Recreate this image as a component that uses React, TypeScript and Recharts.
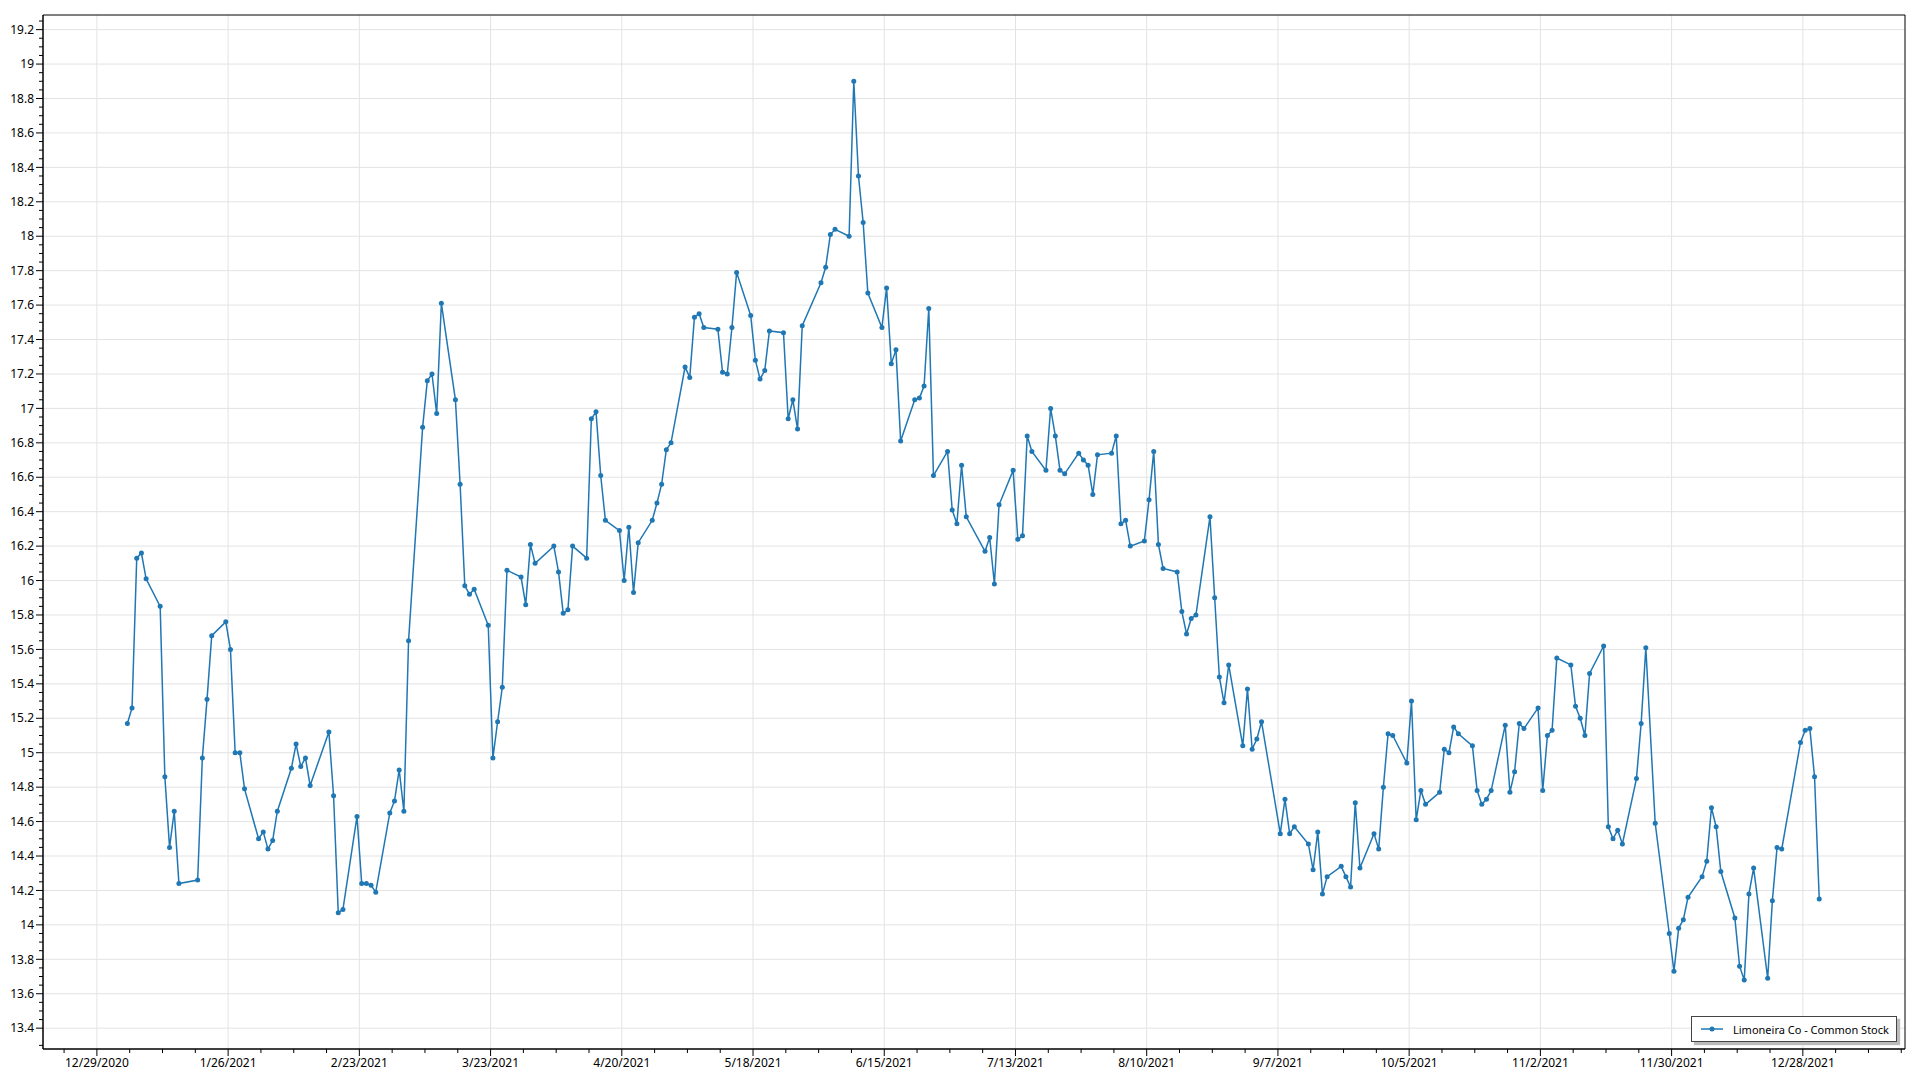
import { LineChart, Line, XAxis, YAxis, CartesianGrid, ReferenceArea, Legend } from 'recharts'

const SERIES_NAME = 'Limoneira Co - Common Stock'
const BLUE = '#1f77b4'
const FONT = "'Segoe UI', 'Noto Sans', sans-serif"

// daily close, 2021: [day of month, close]
const jan: [number, number][] = [[4, 15.17], [5, 15.26], [6, 16.13], [7, 16.16], [8, 16.01], [11, 15.85], [12, 14.86], [13, 14.45], [14, 14.66], [15, 14.24], [19, 14.26], [20, 14.97], [21, 15.31], [22, 15.68], [25, 15.76], [26, 15.6], [27, 15.0], [28, 15.0], [29, 14.79]]
const feb: [number, number][] = [[1, 14.5], [2, 14.54], [3, 14.44], [4, 14.49], [5, 14.66], [8, 14.91], [9, 15.05], [10, 14.92], [11, 14.97], [12, 14.81], [16, 15.12], [17, 14.75], [18, 14.07], [19, 14.09], [22, 14.63], [23, 14.24], [24, 14.24], [25, 14.23], [26, 14.19]]
const mar: [number, number][] = [[1, 14.65], [2, 14.72], [3, 14.9], [4, 14.66], [5, 15.65], [8, 16.89], [9, 17.16], [10, 17.2], [11, 16.97], [12, 17.61], [15, 17.05], [16, 16.56], [17, 15.97], [18, 15.92], [19, 15.95], [22, 15.74], [23, 14.97], [24, 15.18], [25, 15.38], [26, 16.06], [29, 16.02], [30, 15.86], [31, 16.21]]
const apr: [number, number][] = [[1, 16.1], [5, 16.2], [6, 16.05], [7, 15.81], [8, 15.83], [9, 16.2], [12, 16.13], [13, 16.94], [14, 16.98], [15, 16.61], [16, 16.35], [19, 16.29], [20, 16.0], [21, 16.31], [22, 15.93], [23, 16.22], [26, 16.35], [27, 16.45], [28, 16.56], [29, 16.76], [30, 16.8]]
const may: [number, number][] = [[3, 17.24], [4, 17.18], [5, 17.53], [6, 17.55], [7, 17.47], [10, 17.46], [11, 17.21], [12, 17.2], [13, 17.47], [14, 17.79], [17, 17.54], [18, 17.28], [19, 17.17], [20, 17.22], [21, 17.45], [24, 17.44], [25, 16.94], [26, 17.05], [27, 16.88], [28, 17.48]]
const jun: [number, number][] = [[1, 17.73], [2, 17.82], [3, 18.01], [4, 18.04], [7, 18.0], [8, 18.9], [9, 18.35], [10, 18.08], [11, 17.67], [14, 17.47], [15, 17.7], [16, 17.26], [17, 17.34], [18, 16.81], [21, 17.05], [22, 17.06], [23, 17.13], [24, 17.58], [25, 16.61], [28, 16.75], [29, 16.41], [30, 16.33]]
const jul: [number, number][] = [[1, 16.67], [2, 16.37], [6, 16.17], [7, 16.25], [8, 15.98], [9, 16.44], [12, 16.64], [13, 16.24], [14, 16.26], [15, 16.84], [16, 16.75], [19, 16.64], [20, 17.0], [21, 16.84], [22, 16.64], [23, 16.62], [26, 16.74], [27, 16.7], [28, 16.67], [29, 16.5], [30, 16.73]]
const aug: [number, number][] = [[2, 16.74], [3, 16.84], [4, 16.33], [5, 16.35], [6, 16.2], [9, 16.23], [10, 16.47], [11, 16.75], [12, 16.21], [13, 16.07], [16, 16.05], [17, 15.82], [18, 15.69], [19, 15.78], [20, 15.8], [23, 16.37], [24, 15.9], [25, 15.44], [26, 15.29], [27, 15.51], [30, 15.04], [31, 15.37]]
const sep: [number, number][] = [[1, 15.02], [2, 15.08], [3, 15.18], [7, 14.53], [8, 14.73], [9, 14.53], [10, 14.57], [13, 14.47], [14, 14.32], [15, 14.54], [16, 14.18], [17, 14.28], [20, 14.34], [21, 14.28], [22, 14.22], [23, 14.71], [24, 14.33], [27, 14.53], [28, 14.44], [29, 14.8], [30, 15.11]]
const oct: [number, number][] = [[1, 15.1], [4, 14.94], [5, 15.3], [6, 14.61], [7, 14.78], [8, 14.7], [11, 14.77], [12, 15.02], [13, 15.0], [14, 15.15], [15, 15.11], [18, 15.04], [19, 14.78], [20, 14.7], [21, 14.73], [22, 14.78], [25, 15.16], [26, 14.77], [27, 14.89], [28, 15.17], [29, 15.14]]
const nov: [number, number][] = [[1, 15.26], [2, 14.78], [3, 15.1], [4, 15.13], [5, 15.55], [8, 15.51], [9, 15.27], [10, 15.2], [11, 15.1], [12, 15.46], [15, 15.62], [16, 14.57], [17, 14.5], [18, 14.55], [19, 14.47], [22, 14.85], [23, 15.17], [24, 15.61], [26, 14.59], [29, 13.95], [30, 13.73]]
const dec: [number, number][] = [[1, 13.98], [2, 14.03], [3, 14.16], [6, 14.28], [7, 14.37], [8, 14.68], [9, 14.57], [10, 14.31], [13, 14.04], [14, 13.76], [15, 13.68], [16, 14.18], [17, 14.33], [20, 13.69], [21, 14.14], [22, 14.45], [23, 14.44], [27, 15.06], [28, 15.13], [29, 15.14], [30, 14.86], [31, 14.15]]

const months = [jan, feb, mar, apr, may, jun, jul, aug, sep, oct, nov, dec]

const xTickDates = ['2020-12-29', '2021-01-26', '2021-02-23', '2021-03-23', '2021-04-20', '2021-05-18', '2021-06-15', '2021-07-13', '2021-08-10', '2021-09-07', '2021-10-05', '2021-11-02', '2021-11-30', '2021-12-28']
const yTicks = [13.4, 13.6, 13.8, 14, 14.2, 14.4, 14.6, 14.8, 15, 15.2, 15.4, 15.6, 15.8, 16, 16.2, 16.4, 16.6, 16.8, 17, 17.2, 17.4, 17.6, 17.8, 18, 18.2, 18.4, 18.6, 18.8, 19, 19.2]

const DAY = 86400000
const utc = (s: string) => Date.parse(s + 'T00:00:00Z')

const data = months.flatMap((arr, m) =>
  arr.map(([d, close]) => ({ t: Date.UTC(2021, m, d, 12), close }))
)

const xTicks = xTickDates.map(utc)
const X_MIN = xTicks[0] - 11.5 * DAY
const X_MAX = xTicks[xTicks.length - 1] + 21.8 * DAY
const Y_MIN = 13.279
const Y_MAX = 19.285

// minor ticks: 7 days on x, 0.05 on y
const xAllTicks: number[] = []
for (let t = xTicks[0] - 7 * DAY; t <= X_MAX; t += 7 * DAY) if (t >= X_MIN) xAllTicks.push(t)
const yAllTicks: number[] = []
for (let i = 0; i <= (yTicks[yTicks.length - 1] - yTicks[0]) / 0.05 + 0.5; i++) yAllTicks.push(+(yTicks[0] + i * 0.05).toFixed(2))
yAllTicks.push(13.3, 19.25)

const fmtDate = (t: number) => {
  const d = new Date(t)
  return `${d.getUTCMonth() + 1}/${d.getUTCDate()}/${d.getUTCFullYear()}`
}

const YTick = (props: any) => {
  const { x, y, payload } = props
  const v = payload.value
  const major = Math.abs(v * 5 - Math.round(v * 5)) < 1e-6
  return (
    <g>
      <line x1={x} x2={x - (major ? 7 : 4)} y1={y} y2={y} stroke="#000" />
      {major && (
        <text x={x - 9} y={y} dy="0.35em" textAnchor="end" fontSize={12} fontFamily={FONT} fill="#000">
          {String(v)}
        </text>
      )}
    </g>
  )
}

const XTick = (props: any) => {
  const { x, y, payload } = props
  const major = xTicks.includes(payload.value)
  return (
    <g>
      <line x1={x} x2={x} y1={y} y2={y + (major ? 7 : 4)} stroke="#000" />
      {major && (
        <text x={x} y={y + 9} dy="0.75em" textAnchor="middle" fontSize={12} fontFamily={FONT} fill="#000">
          {fmtDate(payload.value)}
        </text>
      )}
    </g>
  )
}

const LegendBox = () => (
  <div
    style={{
      width: 206,
      height: 26,
      border: '1px solid #444',
      background: '#fff',
      boxShadow: '3px 3px 1px #bbb',
      display: 'flex',
      alignItems: 'center',
      fontFamily: FONT,
      fontSize: 11,
      color: '#000',
      whiteSpace: 'nowrap',
      boxSizing: 'border-box',
    }}
  >
    <svg width={34} height={10} style={{ marginLeft: 7, flex: 'none' }}>
      <line x1={2} x2={24} y1={5} y2={5} stroke={BLUE} strokeWidth={1.5} />
      <circle cx={13} cy={5} r={2.5} fill={BLUE} />
    </svg>
    <span>{SERIES_NAME}</span>
  </div>
)

export default function App() {
  return (
    <div style={{ position: 'absolute', left: 0, top: 0, width: 1920, height: 1080, background: '#fff' }}>
      <LineChart width={1920} height={1080} data={data} margin={{ top: 15, right: 15, bottom: 0, left: 0 }}>
        <CartesianGrid stroke="#e3e3e3" horizontalValues={yTicks} verticalValues={xTicks} />
        <XAxis
          dataKey="t"
          type="number"
          scale="linear"
          domain={[X_MIN, X_MAX]}
          allowDataOverflow
          ticks={xAllTicks}
          interval={0}
          height={31}
          tickSize={0}
          tickMargin={0}
          tickLine={false}
          tick={<XTick />}
          axisLine={{ stroke: '#000' }}
        />
        <YAxis
          type="number"
          domain={[Y_MIN, Y_MAX]}
          allowDataOverflow
          ticks={yAllTicks}
          interval={0}
          width={43}
          tickSize={0}
          tickMargin={0}
          tickLine={false}
          tick={<YTick />}
          axisLine={{ stroke: '#000' }}
        />
        <ReferenceArea x1={X_MIN} x2={X_MAX} y1={Y_MIN} y2={Y_MAX} fill="none" stroke="#000" strokeWidth={1} ifOverflow="visible" />
        <Line
          dataKey="close"
          name={SERIES_NAME}
          type="linear"
          stroke={BLUE}
          strokeWidth={1.5}
          dot={{ r: 2.5, fill: BLUE, stroke: BLUE, strokeWidth: 0 }}
          activeDot={false}
          isAnimationActive={false}
        />
        <Legend
          layout="horizontal"
          verticalAlign="middle"
          content={<LegendBox />}
          wrapperStyle={{ left: 1691, top: 1016, width: 212, height: 30 }}
        />
      </LineChart>
    </div>
  )
}
